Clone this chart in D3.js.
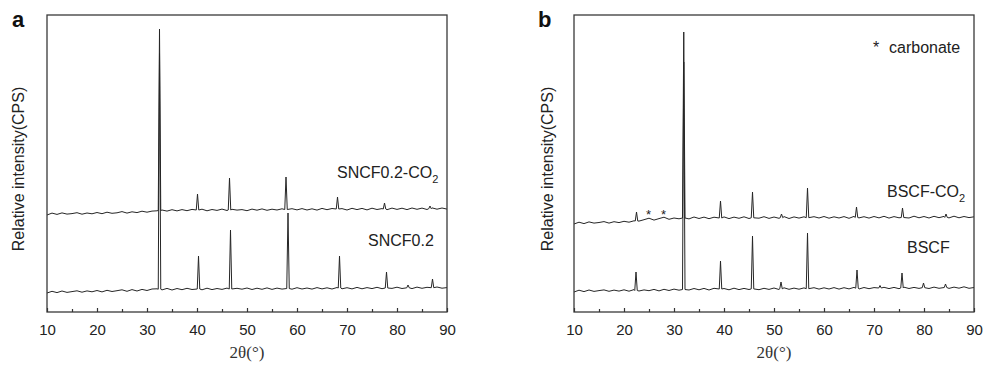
<!DOCTYPE html>
<html>
<head>
<meta charset="utf-8">
<script src="https://cdn.jsdelivr.net/npm/d3@7"></script>
<style>
  body { margin: 0; background: #fff; }
  svg { display: block; font-family: "Liberation Sans", Arial, sans-serif; }
</style>
</head>
<body>
<div id="chart"></div>
<script>
// XRD patterns, intensity in arbitrary units (CPS, stacked), 2θ from 10° to 90°.
// Baselines are readings at every whole degree, peaks are [2θ, foot, apex].
const xTicks = [10, 20, 30, 40, 50, 60, 70, 80, 90];
const xMinor = [15, 25, 35, 45, 55, 65, 75, 85];

const sncfCO2Base = [
  97.0, 98.9, 97.6, 99.1, 97.9, 98.4, 99.3, 97.8, 99.0, 98.2,
  99.5, 98.3, 99.8, 98.7, 99.2, 100.4, 98.9, 100.2, 99.4, 100.8,
  99.8, 100.9, 101.2, 102.0, 100.9, 102.3, 101.1, 102.4, 101.3, 102.6,
  101.4, 102.8, 101.2, 102.5, 101.6, 102.9, 101.5, 102.7, 101.9, 102.4,
  101.3, 102.9, 101.8, 103.1, 101.7, 102.8, 102.0, 103.2, 101.9, 103.3,
  102.1, 103.4, 102.0, 103.2, 101.9, 103.6, 102.3, 103.5, 102.2, 103.4,
  102.0, 103.7, 102.4, 103.6, 102.1, 103.8, 102.5, 103.4, 102.3, 103.9,
  102.6, 103.8, 102.4, 104.0, 102.7, 103.9, 102.5, 104.1, 102.8, 104.0,
  102.9
];
const sncfCO2Peaks = [
  [32.5, 101.5, 283], [40.1, 102, 118], [46.5, 102, 134], [57.8, 102.5, 135],
  [68.1, 103, 115], [77.5, 103, 109], [86.6, 103.3, 106]
];

const sncfBase = [
  19.0, 20.7, 19.4, 21.0, 19.6, 20.4, 21.2, 19.8, 21.1, 20.2,
  21.5, 20.1, 21.7, 20.5, 21.3, 22.2, 20.7, 22.4, 21.0, 22.6,
  21.5, 23.0, 23.2, 22.1, 23.6, 22.0, 23.5, 22.3, 23.7, 22.5,
  23.6, 22.2, 23.8, 22.4, 23.5, 22.6, 23.9, 22.3, 23.7, 22.8,
  24.0, 22.5, 23.8, 22.7, 24.1, 22.6, 23.9, 22.9, 24.2, 22.8,
  24.3, 23.0, 24.0, 22.9, 24.4, 23.1, 24.2, 23.0, 24.5, 23.2,
  24.3, 23.1, 24.6, 23.2, 24.4, 23.4, 24.7, 23.3, 24.5, 23.6,
  24.8, 23.5, 24.6, 23.4, 24.9, 23.7, 24.7, 23.6, 25.0, 23.8,
  24.4
];
const sncfPeaks = [
  [32.5, 22.8, 259], [40.3, 23, 56], [46.7, 23, 82], [58.2, 23.5, 99],
  [68.5, 24, 56], [77.9, 24, 40], [82.2, 24.2, 27], [87.1, 24.3, 33]
];

const bscfCO2Base = [
  88.0, 89.8, 88.4, 90.1, 88.9, 89.5, 90.4, 88.9, 90.3, 89.4,
  90.7, 89.8, 91.2, 90.9, 92.3, 93.8, 91.9, 93.4, 94.8, 92.7,
  94.0, 93.2, 94.4, 93.1, 95.0, 93.5, 94.9, 93.3, 94.8, 93.6,
  95.1, 93.4, 94.9, 93.7, 95.2, 93.5, 94.8, 93.8, 95.3, 93.6,
  95.0, 93.7, 95.4, 93.5, 95.1, 93.9, 95.2, 93.6, 95.3, 94.0,
  95.5, 93.8, 95.2, 94.0, 95.4, 93.7, 95.6, 94.1, 95.3, 93.9,
  95.5, 94.1, 95.7, 93.9, 95.4, 94.2, 95.6, 94.0, 95.8, 94.2,
  95.5, 94.0, 95.7, 94.3, 95.6, 94.1, 95.8, 94.2, 95.5, 94.4,
  95.2
];
const bscfCO2Peaks = [
  [22.5, 91, 100], [31.95, 94, 280], [39.3, 94, 111], [45.7, 94.2, 120],
  [51.5, 94.3, 98], [56.7, 94.3, 124], [66.5, 94.5, 105], [75.7, 94.5, 104],
  [84.4, 94.6, 98]
];
const carbonatePos = [24.9, 27.9];

const bscfBase = [
  20.0, 21.8, 20.4, 22.0, 20.6, 21.4, 22.1, 20.7, 21.9, 20.9,
  22.2, 20.8, 22.4, 21.0, 22.1, 21.3, 22.6, 21.1, 22.7, 21.5,
  22.9, 21.8, 23.4, 22.0, 23.5, 22.2, 23.6, 22.0, 23.7, 22.3,
  23.5, 22.2, 23.8, 22.4, 23.6, 22.5, 23.9, 22.3, 23.7, 22.6,
  24.0, 22.5, 24.2, 22.7, 23.9, 22.8, 24.1, 22.6, 24.3, 22.9,
  24.2, 23.0, 24.4, 22.9, 24.3, 23.1, 24.6, 23.0, 24.5, 23.3,
  24.4, 23.2, 24.7, 23.4, 24.6, 23.3, 24.8, 23.5, 24.6, 23.6,
  25.0, 23.5, 24.9, 23.7, 25.1, 23.6, 24.9, 23.8, 25.2, 23.7,
  24.5
];
const bscfPeaks = [
  [22.4, 21.5, 40], [31.95, 22.5, 250], [39.3, 23, 51], [45.7, 23.1, 76],
  [51.4, 23.2, 30], [56.7, 23.3, 79], [66.6, 23.8, 42], [71.2, 24.0, 26.5],
  [75.6, 24.0, 39], [79.9, 24.3, 29], [84.3, 24.5, 28]
];

const W = 986, H = 365;
const svg = d3.select("#chart").append("svg").attr("width", W).attr("height", H);

function trace(base, peaks) {
  const hw = 0.25;
  const pts = base.map((v, i) => [10 + i, v])
    .filter(([t]) => !peaks.some(([p]) => Math.abs(t - p) < hw + 0.05));
  peaks.forEach(([p, foot, apex]) => {
    pts.push([p - hw, foot], [p, apex], [p + hw, foot]);
  });
  return pts.sort((a, b) => a[0] - b[0]);
}

function panel(opt) {
  const { left, letter, letterX, ylabX, series } = opt;
  const top = 15, bottom = 312, width = 400;
  const x = d3.scaleLinear().domain([10, 90]).range([left, left + width]);
  const y = d3.scaleLinear().domain([0, 297]).range([bottom, top]);
  const g = svg.append("g");

  const line = d3.line().x((d) => x(d[0])).y((d) => y(d[1]));
  series.forEach((s) => {
    g.append("path")
      .datum(trace(s.base, s.peaks))
      .attr("d", line)
      .attr("fill", "none")
      .attr("stroke", "#262626")
      .attr("stroke-width", 1)
      .attr("stroke-linejoin", "round");
    const t = g.append("text")
      .attr("x", x(s.labelAt[0])).attr("y", y(s.labelAt[1]))
      .attr("font-size", 16).attr("fill", "#222");
    t.append("tspan").text(s.name);
    if (s.sub) {
      t.append("tspan").attr("font-size", 11).attr("dy", 5).text(s.sub);
    }
  });

  g.append("rect")
    .attr("x", left).attr("y", top).attr("width", width).attr("height", bottom - top)
    .attr("fill", "none").attr("stroke", "#3a3a3a").attr("stroke-width", 1.3);

  const ax = g.append("g").attr("transform", `translate(0,${bottom})`)
    .call(d3.axisBottom(x).tickValues(xTicks).tickSizeInner(-4).tickSizeOuter(0).tickPadding(12));
  ax.select(".domain").remove();
  ax.selectAll("line").attr("stroke", "#333").attr("stroke-width", 1.2);
  ax.selectAll("text").attr("font-size", 15).attr("fill", "#222")
    .attr("font-family", "'Liberation Sans', Arial, sans-serif");

  const mn = g.append("g").attr("transform", `translate(0,${bottom})`)
    .call(d3.axisBottom(x).tickValues(xMinor).tickSizeInner(-3).tickSizeOuter(0).tickFormat(""));
  mn.select(".domain").remove();
  mn.selectAll("line").attr("stroke", "#333").attr("stroke-width", 1.2);

  g.append("text")
    .attr("x", left + width / 2).attr("y", 358)
    .attr("text-anchor", "middle")
    .attr("font-family", "'Liberation Serif', 'Times New Roman', serif")
    .attr("font-size", 17).attr("fill", "#333")
    .text("2θ(°)");

  g.append("text")
    .attr("transform", `translate(${ylabX},169) rotate(-90)`)
    .attr("text-anchor", "middle")
    .attr("font-size", 16).attr("fill", "#222")
    .text("Relative intensity(CPS)");

  g.append("text")
    .attr("x", letterX).attr("y", 27)
    .attr("font-size", 22).attr("font-weight", "bold").attr("fill", "#111")
    .text(letter);

  return { g, x, y };
}

panel({
  left: 47, letter: "a", letterX: 12, ylabX: 24,
  series: [
    { base: sncfCO2Base, peaks: sncfCO2Peaks, name: "SNCF0.2-CO", sub: "2", labelAt: [68, 134] },
    { base: sncfBase, peaks: sncfPeaks, name: "SNCF0.2", labelAt: [74.2, 66] }
  ]
});

const pb = panel({
  left: 574, letter: "b", letterX: 538, ylabX: 553,
  series: [
    { base: bscfCO2Base, peaks: bscfCO2Peaks, name: "BSCF-CO", sub: "2", labelAt: [72.6, 115] },
    { base: bscfBase, peaks: bscfPeaks, name: "BSCF", labelAt: [76.6, 59] }
  ]
});

// carbonate markers above the small reflections
pb.g.selectAll(".star")
  .data(carbonatePos)
  .enter()
  .append("text")
  .attr("class", "star")
  .attr("x", (d) => pb.x(d))
  .attr("y", pb.y(94) + 1)
  .attr("text-anchor", "middle")
  .attr("font-size", 13).attr("fill", "#222")
  .text("*");

pb.g.append("text")
  .attr("x", pb.x(69.8)).attr("y", 53)
  .attr("font-size", 16).attr("fill", "#222")
  .text("*");
pb.g.append("text")
  .attr("x", pb.x(73)).attr("y", 53)
  .attr("font-size", 16).attr("fill", "#222")
  .text("carbonate");
</script>
</body>
</html>
